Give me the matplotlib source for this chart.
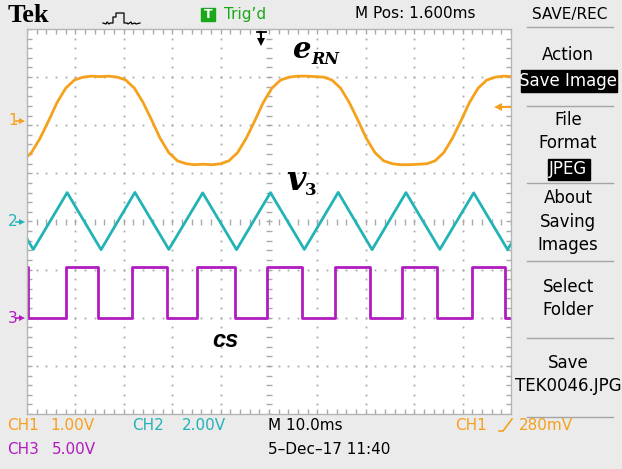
import numpy as np
import matplotlib
matplotlib.use("Agg")
import matplotlib.pyplot as plt
from matplotlib.lines import Line2D
from matplotlib.patches import Rectangle

W, H = 622, 469

# CH1 e_RN, volts vs ms
ch1_t = [-0.9, 0.9, 2.7, 4.5, 6.2, 8.0, 9.8, 11.6, 13.3,
         15.1, 16.9, 18.7, 20.4, 22.2, 24.0, 25.8, 27.5, 29.3, 31.1, 32.9, 34.6,
         36.4, 38.2, 40.0, 41.7, 43.5, 45.3, 47.1, 48.8, 50.6, 52.4, 54.2, 55.9,
         57.7, 59.5, 61.3, 63.0, 64.8, 66.6, 68.4, 70.1, 71.9, 73.7, 75.5, 77.2,
         79.0, 80.8, 82.6, 84.3, 86.1, 87.9, 89.7, 91.4, 93.2, 95.0, 96.8, 98.5,
         100.3]
ch1_v = [-0.84, -0.67, -0.37, 0.00, 0.37, 0.67, 0.84, 0.90, 0.92,
         0.91, 0.92, 0.90, 0.84, 0.67, 0.37, 0.00, -0.37, -0.67, -0.84, -0.90, -0.92,
         -0.91, -0.92, -0.90, -0.84, -0.67, -0.37, 0.00, 0.37, 0.67, 0.84, 0.90, 0.92,
         0.92, 0.91, 0.90, 0.84, 0.67, 0.37, 0.00, -0.37, -0.67, -0.84, -0.90, -0.92,
         -0.92, -0.91, -0.90, -0.84, -0.67, -0.37, 0.00, 0.37, 0.67, 0.84, 0.90, 0.92,
         0.91]

# CH2 v3, triangle vertices
ch2_t = [-5.7, 1.3, 8.3, 15.3, 22.3, 29.3, 36.3, 43.3, 50.3, 57.3, 64.3, 71.3,
         78.3, 85.3, 92.3, 99.3, 106.3]
ch2_v = [1.20, -1.16, 1.20, -1.17, 1.21, -1.16, 1.19, -1.17, 1.20, -1.16, 1.21,
         -1.17, 1.20, -1.16, 1.19, -1.17, 1.20]

# CH3 cs, switching edges
ch3_t = [-1.0, 0.2, 8.1, 14.7, 21.7, 28.9, 35.1, 43.0, 49.6, 56.8, 63.6, 70.9,
         77.5, 84.7, 92.0, 98.8, 101.0]
ch3_v = [5.3, 0, 5.3, 0, 5.3, 0, 5.3, 0, 5.3, 0, 5.3, 0, 5.3, 0, 5.3, 0, 0]

volts_div = [1.0, 2.0, 5.0]
trig_level = 0.28  # V on CH1
m_pos = 1.6        # ms

ch_pos = [2.1, 0.0, -2.0]
ORANGE, TEAL, MAGENTA = "#f5a11c", "#22b3b7", "#b01cbf"
GREEN = "#1aa81a"
BG = "#ebebeb"
GRID = "#a9a9a9"
FONT = "DejaVu Sans"


def fx(x):
    return x / W


def fy(y):
    return 1 - y / H


fig = plt.figure(figsize=(W / 100, H / 100), dpi=100, facecolor=BG)
ax = fig.add_axes([fx(27), fy(414), (511 - 27) / W, (414 - 29) / H])
ax.set_facecolor("white")
ax.set_xlim(0, 100)
ax.set_ylim(-4, 4)
ax.set_xticks([])
ax.set_yticks([])
for s in ax.spines.values():
    s.set_color("#b5b5b5")
    s.set_linewidth(1)

# graticule
gx = np.arange(0, 100.1, 2)
gy = np.arange(-4, 4.01, 0.2)
for yy in [-3, -2, -1, 1, 2, 3]:
    ax.plot(gx, np.full_like(gx, yy), ls="none", marker="s", ms=1.3, mew=0, color=GRID)
for xx in [10, 20, 30, 40, 60, 70, 80, 90]:
    ax.plot(np.full_like(gy, xx), gy, ls="none", marker="s", ms=1.3, mew=0, color=GRID)
ax.plot(gx, np.zeros_like(gx), ls="none", marker="|", ms=5, mew=1, color=GRID)
ax.plot(np.full_like(gy, 50), gy, ls="none", marker="_", ms=5, mew=1, color=GRID)
for yy in [-4, 4]:
    ax.plot(gx, np.full_like(gx, yy), ls="none", marker="|", ms=7, mew=1, color=GRID)
for xx in [0, 100]:
    ax.plot(np.full_like(gy, xx), gy, ls="none", marker="_", ms=7, mew=1, color=GRID)

# traces
ax.plot(ch1_t, ch_pos[0] + np.array(ch1_v) / volts_div[0], color=ORANGE, lw=2,
        solid_joinstyle="round")
ax.plot(ch2_t, ch_pos[1] + np.array(ch2_v) / volts_div[1], color=TEAL, lw=2,
        solid_joinstyle="round")
ax.plot(ch3_t, ch_pos[2] + np.array(ch3_v) / volts_div[2], color=MAGENTA, lw=2,
        drawstyle="steps-post")

# trigger level arrow (right) and trigger position (top)
lvl = ch_pos[0] + trig_level / volts_div[0]
ax.plot([97.3, 100], [lvl, lvl], color=ORANGE, lw=1.5)
ax.plot([97.3], [lvl], marker="<", ms=6, color=ORANGE, mew=0)
tp = 50 - m_pos
ax.plot([tp, tp], [3.93, 3.72], color="black", lw=1.5, clip_on=False)
ax.plot([tp - 0.9, tp + 0.9], [3.93, 3.93], color="black", lw=1.3, clip_on=False)
ax.plot([tp], [3.72], marker="v", ms=6, color="black", mew=0)

# channel ground markers
for i, (c, p) in enumerate(zip([ORANGE, TEAL, MAGENTA], ch_pos)):
    y = 222 - p * 48.2
    fig.text(fx(8), fy(y), str(i + 1), color=c, fontsize=11, family=FONT, va="center")
    fig.add_artist(Line2D([fx(16), fx(22)], [fy(y), fy(y)], color=c, lw=1.2))
    fig.add_artist(Line2D([fx(22)], [fy(y)], marker=">", ms=5, color=c, mew=0))

# trace labels
fig.text(fx(292), fy(58), "e", family="DejaVu Serif", weight="bold", style="italic",
         fontsize=21, va="baseline")
fig.text(fx(311), fy(64), "RN", family="DejaVu Serif", weight="bold", style="italic",
         fontsize=11.5, va="baseline")
fig.text(fx(286), fy(190), "v", family="DejaVu Serif", weight="bold", style="italic",
         fontsize=24, va="baseline")
fig.text(fx(305), fy(195), "3", family="DejaVu Serif", weight="bold",
         fontsize=12, va="baseline")
fig.text(fx(212), fy(347), "cs", family="Liberation Sans", weight="bold", style="italic",
         fontsize=17, va="baseline")

# header
fig.text(fx(8), fy(16), "Tek", family="Liberation Serif", weight="bold", fontsize=19,
         va="center")
icon_x = [103, 106, 107, 109, 110, 113, 113, 116, 116, 124, 124, 127, 128, 131, 132, 135, 136, 140]
icon_y = [23, 24, 22, 24, 23, 23, 17, 17, 13, 13, 23, 23, 24, 22, 24, 23, 24, 23]
fig.add_artist(Line2D([fx(v) for v in icon_x], [fy(v) for v in icon_y], color="black", lw=0.9))
fig.add_artist(Rectangle((fx(201), fy(21)), 14 / W, 13 / H, color=GREEN))
fig.text(fx(208), fy(14.5), "T", color="white", fontsize=9, weight="bold", family=FONT,
         ha="center", va="center")
fig.text(fx(224), fy(14), "Trig\u2019d", color=GREEN, fontsize=11, family=FONT, va="center")
fig.text(fx(355), fy(14), "M Pos: 1.600ms", color="black", fontsize=11, family=FONT, va="center")
fig.text(fx(570), fy(14), "SAVE/REC", color="black", fontsize=11, family=FONT, va="center",
         ha="center")

# right menu
for y in [27, 106, 183, 261, 338, 417]:
    fig.add_artist(Line2D([fx(527), fx(613)], [fy(y), fy(y)], color="#a5a5a5", lw=1))
fig.add_artist(Rectangle((fx(521), fy(92)), 96 / W, 22 / H, color="black"))
fig.add_artist(Rectangle((fx(548), fy(180)), 42 / W, 21 / H, color="black"))
menu = [("Action", 55, "black"), ("Save Image", 81, "white"),
        ("File", 120, "black"), ("Format", 143, "black"), ("JPEG", 169, "white"),
        ("About", 198, "black"), ("Saving", 222, "black"), ("Images", 245, "black"),
        ("Select", 287, "black"), ("Folder", 310, "black"),
        ("Save", 363, "black"), ("TEK0046.JPG", 386, "black")]
for s, y, c in menu:
    fig.text(fx(568), fy(y), s, color=c, fontsize=12, family=FONT, ha="center", va="center")

# bottom status
row1, row2 = 425, 449
fig.text(fx(7), fy(row1), "CH1", color=ORANGE, fontsize=11, family=FONT, va="center")
fig.text(fx(50), fy(row1), "1.00V", color=ORANGE, fontsize=11, family=FONT, va="center")
fig.text(fx(132), fy(row1), "CH2", color=TEAL, fontsize=11, family=FONT, va="center")
fig.text(fx(182), fy(row1), "2.00V", color=TEAL, fontsize=11, family=FONT, va="center")
fig.text(fx(268), fy(row1), "M 10.0ms", color="black", fontsize=11, family=FONT, va="center")
fig.text(fx(455), fy(row1), "CH1", color=ORANGE, fontsize=11, family=FONT, va="center")
fig.add_artist(Line2D([fx(499), fx(503), fx(512)], [fy(431), fy(431), fy(419)],
                      color=ORANGE, lw=1.2))
fig.text(fx(519), fy(row1), "280mV", color=ORANGE, fontsize=11, family=FONT, va="center")
fig.text(fx(7), fy(row2), "CH3", color=MAGENTA, fontsize=11, family=FONT, va="center")
fig.text(fx(52), fy(row2), "5.00V", color=MAGENTA, fontsize=11, family=FONT, va="center")
fig.text(fx(268), fy(row2), "5\u2013Dec\u201317 11:40", color="black", fontsize=11, family=FONT,
         va="center")

fig.savefig("out.png", dpi=100, facecolor=BG)
